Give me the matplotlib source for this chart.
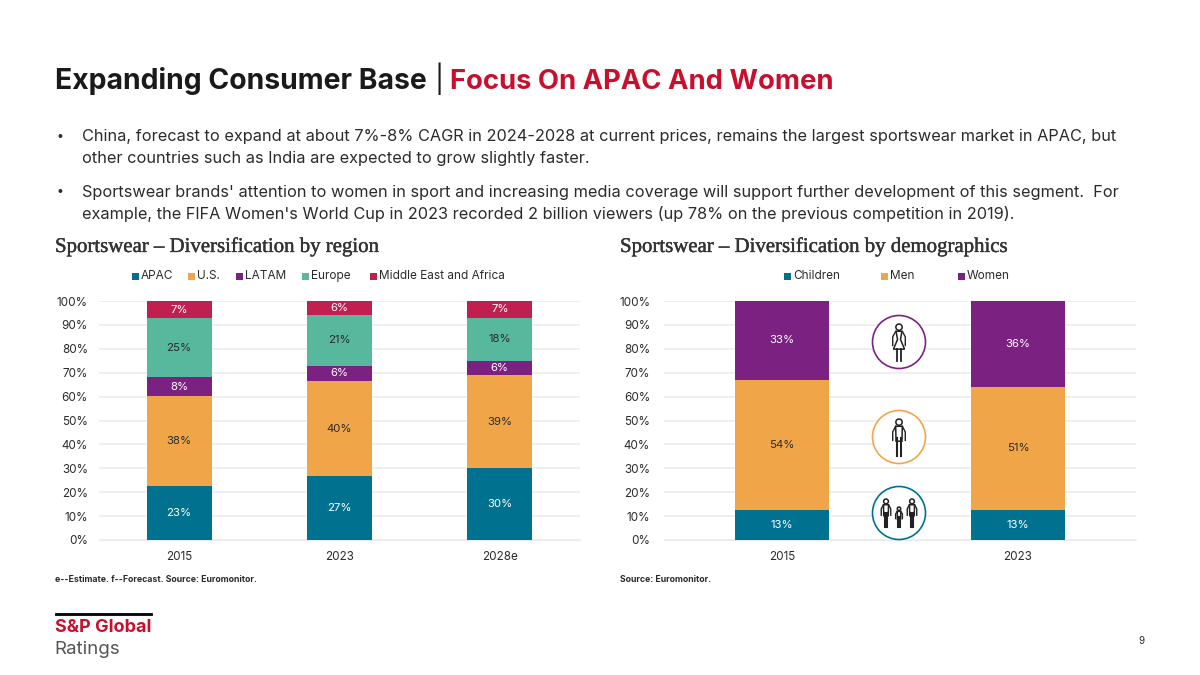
import matplotlib
matplotlib.use("Agg")
import matplotlib.pyplot as plt
import matplotlib.patheffects as pe
from matplotlib.patches import Circle, Rectangle, Polygon

plt.rcParams['font.family'] = ['Inter', 'DejaVu Sans']

# region chart
region_years = ['2015', '2023', '2028e']
apac = [22.6, 26.6, 30]
us = [37.6, 40, 39]
latam = [7.9, 6.4, 6]
europe = [24.6, 21, 18]
mea = [7.3, 6, 7]

# demographics chart
demo_years = ['2015', '2023']
children = [12.6, 12.6]
men = [54.4, 51.4]
women = [33, 36]

y_ticks = [0, 10, 20, 30, 40, 50, 60, 70, 80, 90, 100]

TEAL = '#00728f'
ORANGE = '#f0a648'
PURPLE = '#7a2182'
GREEN = '#57b89e'
RED = '#c0204f'
GRID = '#ebebeb'
TXT = '#2b2b2b'
W, H = 1200, 675

fig = plt.figure(figsize=(12, 6.75), dpi=100, facecolor='white')
page = fig.add_axes([0, 0, 1, 1])
page.set_xlim(0, W)
page.set_ylim(H, 0)
page.axis('off')


def stacked(box, years, series, colors, light, width, pad):
    ax = fig.add_axes([box[0] / W, 1 - box[3] / H, (box[2] - box[0]) / W, (box[3] - box[1]) / H])
    bottom = [0] * len(years)
    xs = list(range(len(years)))
    for vals, col, lab_col in zip(series, colors, light):
        ax.bar(xs, vals, width, bottom=bottom, color=col, zorder=3)
        for i, v in enumerate(vals):
            ax.text(i, bottom[i] + v / 2, f'{v:.0f}%', ha='center', va='center',
                    fontsize=8.2, color=lab_col, zorder=4)
        bottom = [b + v for b, v in zip(bottom, vals)]
    ax.set_xlim(-0.5, len(years) - 0.5)
    ax.set_ylim(0, 100)
    ax.set_yticks(y_ticks)
    ax.set_yticklabels([f'{t}%' for t in y_ticks], fontsize=8.4, color=TXT)
    ax.set_xticks(xs)
    ax.set_xticklabels(years, fontsize=8.4, color=TXT)
    ax.tick_params(axis='y', length=0, pad=pad)
    ax.tick_params(axis='x', length=0, pad=8)
    ax.grid(axis='y', color=GRID, lw=1.1, zorder=0)
    ax.set_axisbelow(True)
    for s in ax.spines.values():
        s.set_visible(False)
    ax.spines['bottom'].set_visible(True)
    ax.spines['bottom'].set_color(GRID)
    ax.patch.set_alpha(0)
    return ax


stacked((99, 301, 580, 540), region_years, [apac, us, latam, europe, mea],
        [TEAL, ORANGE, PURPLE, GREEN, RED], ['white', TXT, 'white', TXT, 'white'], 0.405, 8)
stacked((664, 301, 1136, 540), demo_years, [children, men, women],
        [TEAL, ORANGE, PURPLE], ['white', TXT, 'white'], 0.40, 10)

# title
page.text(55, 89, 'Expanding Consumer Base', fontsize=20.4, fontweight='bold', color='#1a1a1a', va='baseline')
page.text(434, 89, '|', fontsize=20, color='#1a1a1a', va='baseline')
page.text(450, 89, 'Focus On APAC And Women', fontsize=19.75, fontweight='bold', color='#c8102e', va='baseline')

# bullets
bullets = [
    (137, '•', 'China, forecast to expand at about 7%-8% CAGR in 2024-2028 at current prices, remains the largest sportswear market in APAC, but'),
    (159, '', 'other countries such as India are expected to grow slightly faster.'),
    (192, '•', "Sportswear brands' attention to women in sport and increasing media coverage will support further development of this segment.  For"),
    (214, '', "example, the FIFA Women's World Cup in 2023 recorded 2 billion viewers (up 78% on the previous competition in 2019)."),
]
for y, mark, line in bullets:
    if mark:
        page.text(56, y, mark, fontsize=9, color=TXT, va='center')
    page.text(82, y, line, fontsize=11.75, color=TXT, va='center')

# chart titles
heavier = [pe.withStroke(linewidth=0.3, foreground='#333333')]
page.text(55, 247, 'Sportswear – Diversification by region', fontsize=15, family='Liberation Serif',
          color='#333333', va='center', path_effects=heavier)
page.text(620, 247, 'Sportswear – Diversification by demographics', fontsize=15, family='Liberation Serif',
          color='#333333', va='center', path_effects=heavier)


def legend(y, items):
    for x, col, lab in items:
        page.add_patch(Rectangle((x, y - 3.5), 7, 7, color=col, lw=0))
        page.text(x + 9, y, lab, fontsize=8.5, color=TXT, va='center')


legend(276, [(132, TEAL, 'APAC'), (188, ORANGE, 'U.S.'), (236, PURPLE, 'LATAM'),
             (302, GREEN, 'Europe'), (370, RED, 'Middle East and Africa')])
legend(276, [(784, TEAL, 'Children'), (881, ORANGE, 'Men'), (958, PURPLE, 'Women')])


# small pictograms between the bars
def person(x, top, h, dress=False):
    r = h * 0.085
    ink = '#222222'
    page.add_patch(Circle((x, top + r), r, fc='white', ec=ink, lw=1.1, zorder=6))
    y0 = top + 2 * r + 1
    # arms
    for s in (-1, 1):
        page.plot([x + s * h * .09, x + s * h * .17, x + s * h * .17],
                  [y0, top + h * .35, top + h * .58], color=ink, lw=1.0, zorder=6)
    if dress:
        page.add_patch(Polygon([(x - h * .08, y0), (x + h * .08, y0), (x + h * .04, top + h * .42),
                                (x + h * .15, top + h * .68), (x - h * .15, top + h * .68),
                                (x - h * .04, top + h * .42)], closed=True, fc='white',
                               ec=ink, lw=1.1, zorder=6))
        for d in (-.06, .06):
            page.plot([x + h * d] * 2, [top + h * .68, top + h], color=ink, lw=1.3, zorder=6)
    else:
        page.add_patch(Polygon([(x - h * .09, y0), (x + h * .09, y0), (x + h * .08, top + h * .6),
                                (x - h * .08, top + h * .6)], closed=True, fc='white',
                               ec=ink, lw=1.1, zorder=6))
        for d in (-.05, .05):
            page.plot([x + h * d] * 2, [top + h * .5, top + h], color=ink, lw=1.5, zorder=6)


page.set_zorder(5)
page.patch.set_alpha(0)
for cy, col in [(342, PURPLE), (437, ORANGE), (513, TEAL)]:
    page.add_patch(Circle((899, cy), 26.5, fc='white', ec=col, lw=1.2, zorder=5))
person(899, 324, 37, dress=True)
person(899, 419, 37)
person(886, 499, 28)
person(899, 507, 20)
person(912, 499, 28)

# footnotes
page.text(55, 579, 'e--Estimate. f--Forecast. Source: Euromonitor.', fontsize=6.3, fontweight='bold', color=TXT, va='center')
page.text(620, 579, 'Source: Euromonitor.', fontsize=6.3, fontweight='bold', color=TXT, va='center')

# logo
page.plot([56, 151], [614, 614], color='black', lw=2)
page.text(55, 627, 'S&P Global', fontsize=13, fontweight='bold', color='#c8102e', va='center')
page.text(54, 649, 'Ratings', fontsize=13.5, color='#555555', va='center')
page.text(1141, 641, '9', fontsize=7, color=TXT, ha='center', va='center')

fig.savefig('out.png', dpi=100)
